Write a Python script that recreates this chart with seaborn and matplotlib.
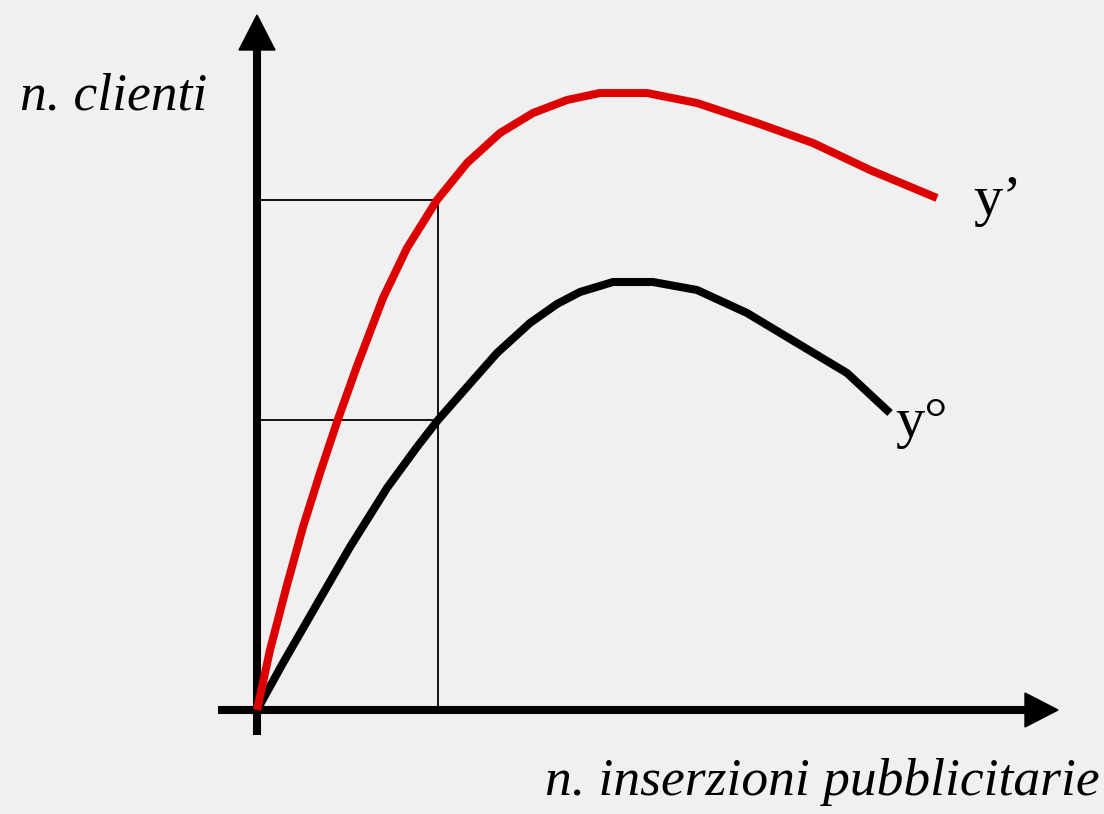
import matplotlib
matplotlib.use("Agg")
import matplotlib.pyplot as plt
import seaborn as sns
import pandas as pd
import numpy as np

sns.set_theme(style="white")
plt.rcParams['font.family'] = ['Liberation Serif', 'DejaVu Serif']
plt.rcParams['text.color'] = 'black'

# Data (units: x = insertions, y = clients; origin at axes crossing)
x_red = [0, 13, 30, 46, 63, 80, 100, 126, 150, 180, 210, 243, 276, 310, 343, 390, 440, 500, 556, 613, 680]
y_red = [0, 60, 125, 183, 237, 288, 344, 412, 462, 510, 547, 577, 597, 610, 617, 617, 607, 587, 567, 540, 512]
x_black = [0, 26, 60, 93, 130, 160, 181, 210, 240, 273, 300, 323, 356, 396, 440, 490, 540, 590, 633]
y_black = [0, 47, 106, 163, 222, 263, 290, 323, 357, 387, 406, 418, 428, 428, 420, 397, 367, 337, 297]
x_ref = 181
y_ref_red = 510
y_ref_black = 290

labels = {"ylabel": "n. clienti", "xlabel": "n. inserzioni pubblicitarie",
          "red": "y\u2019", "black": "y\u00b0"}

df = pd.concat([
    pd.DataFrame({"x": x_red, "y": y_red, "s": "red"}),
    pd.DataFrame({"x": x_black, "y": y_black, "s": "black"}),
])

fig = plt.figure(figsize=(11.04, 8.14), dpi=100)
fig.patch.set_facecolor("#f0f0f0")
ax = fig.add_axes([0, 0, 1, 1])
ax.set_facecolor("#f0f0f0")
ax.set_xlim(-257, 847)
ax.set_ylim(-104, 710)
ax.axis("off")

# axes arrows
ax.plot([0, 0], [-25, 660], color="black", lw=5.8, solid_capstyle="butt", zorder=3)
ax.fill([-18, 18, 0], [660, 660, 695], color="black", zorder=3)
ax.plot([-39, 770], [0, 0], color="black", lw=5.8, solid_capstyle="butt", zorder=3)
ax.fill([768, 768, 801], [-17, 17, 0], color="black", zorder=3)

# guide lines
gl = dict(color="black", lw=1.3, zorder=2)
ax.plot([0, x_ref], [y_ref_red, y_ref_red], **gl)
ax.plot([0, x_ref], [y_ref_black, y_ref_black], **gl)
ax.plot([x_ref, x_ref], [0, y_ref_red], **gl)

# curves
for s, c in [("black", "black"), ("red", "#dd0000")]:
    sub = df[df.s == s]
    sns.lineplot(x=sub.x.values.astype(float), y=sub.y.values, ax=ax, color=c, lw=5.8,
                 sort=False, solid_capstyle="butt", solid_joinstyle="round", zorder=4)

ax.text(-237, 600, labels["ylabel"], fontsize=38.5, style="italic", ha="left", va="baseline")
ax.text(843, -85, labels["xlabel"], fontsize=38.5, style="italic", ha="right", va="baseline")
ax.text(716, 495, labels["red"], fontsize=42, ha="left", va="baseline")
ax.text(638, 273, labels["black"], fontsize=42, ha="left", va="baseline")

fig.savefig("out.png", dpi=100, facecolor=fig.get_facecolor())
